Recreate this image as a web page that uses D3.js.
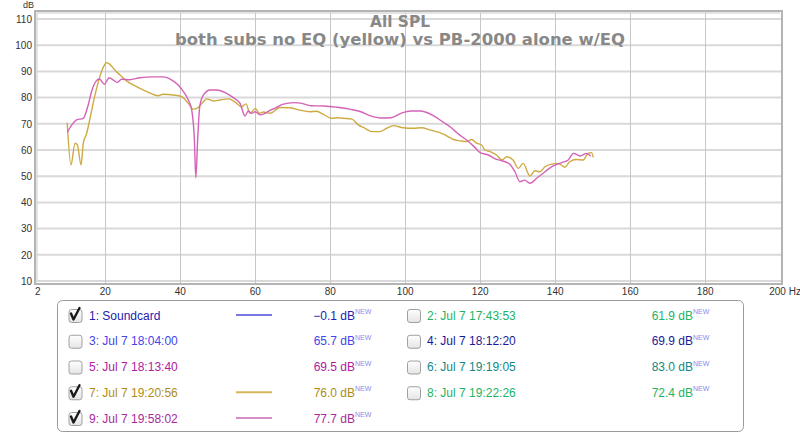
<!DOCTYPE html>
<html>
<head>
<meta charset="utf-8">
<script src="https://cdn.jsdelivr.net/npm/d3@7"></script>
<style>
  body { margin: 0; background: #fff; }
  svg { display: block; font-family: "Liberation Sans", Arial, sans-serif; }
</style>
</head>
<body>
<div id="chart"></div>
<script>
// frequency (Hz) and level (dB)
var yellowHz = [10, 11, 12.1, 12.7, 13.7, 14.3, 15.2, 15.9, 17, 18.3, 19.5, 20.5, 21.4, 22.7, 24.1, 25.9, 28.5, 31.2, 34.3, 35.6, 38.3, 40.5, 42.3, 43.6, 44.8, 46.3, 47.2, 49, 50.7, 53, 54.7, 56.5, 57.7, 58.7, 60.2, 61.2, 62.3, 64.1, 66.7, 69.4, 72.1, 74.7, 76.5, 78.3, 80.5, 82.3, 83.6, 85.9, 87.6, 89.4, 91.2, 93.4, 95.2, 97, 99.6, 102.3, 104.5, 106.8, 109.4, 112.1, 113, 114.8, 116.5, 117.9, 119.2, 120.5, 121.4, 122.8, 124.5, 125.9, 127.2, 128.9, 130.3, 131.6, 133.4, 134.7, 136, 137.4, 139.1, 140.9, 142.7, 144, 145.8, 147.6, 148.9, 149.8, 150.3];
var yellowDb = [70.4, 54.3, 62.6, 62, 54.3, 62.6, 66.4, 70.8, 78.4, 86, 91.2, 93.3, 92.7, 90.5, 88.6, 86.3, 84.2, 82.3, 80.7, 81.3, 81, 80.4, 77.8, 75.6, 76.1, 78.4, 79.5, 78.7, 79.1, 79.5, 78.4, 76.5, 77.6, 74, 75.9, 74, 74.5, 74, 76.2, 76.1, 75.2, 74.6, 74.8, 73.6, 72.1, 72.3, 72.1, 71.8, 69.6, 68.3, 67, 67, 68.3, 69.3, 68.5, 68.3, 68.5, 67.6, 66.6, 64.7, 64, 63.5, 63.2, 64, 62.6, 61.9, 60, 59.4, 58.1, 56.2, 57.4, 56.2, 53, 54.9, 50.1, 52.1, 51.7, 53.6, 54.6, 54.9, 53.4, 55.5, 56.4, 56.2, 58.7, 59, 57.2];

var pinkHz = [10, 11.2, 12.5, 14.3, 15.6, 16.5, 17.7, 18.6, 19.9, 21.2, 22.3, 23.4, 24.5, 26.7, 29.4, 33, 35.6, 37.9, 39.6, 41, 42.3, 43.2, 43.9, 44.3, 44.8, 45.4, 46.5, 48.1, 49.9, 52.5, 54.3, 56.1, 57.4, 58.3, 59.2, 60.1, 61.4, 62.5, 64.3, 65.6, 67.4, 70.5, 72.3, 75, 78.6, 82, 85.6, 88.3, 90.9, 93.6, 96.3, 99, 101.6, 104.3, 105.5, 107.5, 110.3, 112.1, 113.9, 116.5, 118.7, 120.1, 122.3, 124.5, 125.9, 128.1, 129.4, 130.7, 132, 133.4, 135.2, 137.4, 139.6, 141.9, 143.6, 145, 146.8, 148.5, 149.6];
var pinkDb = [66.7, 69.5, 71.5, 72.1, 77.2, 82.3, 86.3, 87.1, 85.1, 87.6, 86.7, 85.8, 87, 86.8, 87.6, 87.9, 87.9, 86.7, 84.8, 82.3, 79.1, 75.3, 64.5, 49.4, 64.5, 77.2, 81.3, 82.9, 82.9, 81.6, 80, 77.8, 73, 74.9, 74, 74.6, 73.4, 73.8, 75.3, 76.1, 77.4, 78.1, 77.9, 76.9, 76.8, 76.3, 75.5, 74.6, 73, 72.2, 72.3, 74, 74.9, 74.9, 74.5, 73.2, 70.6, 68.9, 66.6, 63.8, 61, 59, 58.1, 56.4, 55.9, 54.5, 51.7, 47.9, 48.5, 47.3, 49.2, 51.7, 53.9, 55.2, 56.2, 58.7, 57.7, 58.7, 57.6];

var xTicks = [2, 20, 40, 60, 80, 100, 120, 140, 160, 180, 200];
var yTicks = [10, 20, 30, 40, 50, 60, 70, 80, 90, 100, 110];

var titleLines = ["All SPL", "both subs no EQ (yellow) vs PB-2000 alone w/EQ"];
var titleWidths = [60, 450];

// legend: column 1 then column 2
var legendLabels = ["1: Soundcard", "3: Jul 7 18:04:00", "5: Jul 7 18:13:40", "7: Jul 7 19:20:56", "9: Jul 7 19:58:02",
                    "2: Jul 7 17:43:53", "4: Jul 7 18:12:20", "6: Jul 7 19:19:05", "8: Jul 7 19:22:26"];
var legendValues = ["\u22120.1 dB", "65.7 dB", "69.5 dB", "76.0 dB", "77.7 dB", "61.9 dB", "69.9 dB", "83.0 dB", "72.4 dB"];
var legendChecked = [true, false, false, true, true, false, false, false, false];
var legendColors = ["#2222b0", "#4444ee", "#b0209e", "#b08c14", "#aa2a9c", "#22b464", "#1a1a98", "#128888", "#22b464"];
var legendLine = ["#7878e0", null, null, "#d6b458", "#d88cc6", null, null, null, null];

var width = 800, height = 435;

var svg = d3.select("#chart")
  .append("svg")
    .attr("width", width)
    .attr("height", height);

var x = d3.scaleLinear().domain([2, 200]).range([37.2, 779.7]);
var y = d3.scaleLinear().domain([10, 110]).range([281, 19]);

var plot = {left: 35, top: 11, right: 782, bottom: 284};

// horizontal grid
svg.append("g")
  .selectAll("line")
  .data(yTicks)
  .enter().append("line")
    .attr("x1", plot.left).attr("x2", plot.right)
    .attr("y1", function(d) { return y(d); })
    .attr("y2", function(d) { return y(d); })
    .attr("stroke", "#d9d9d9")
    .attr("stroke-width", 2);

// vertical grid
svg.append("g")
  .selectAll("line")
  .data(xTicks.slice(1, -1))
  .enter().append("line")
    .attr("x1", function(d) { return Math.round(x(d)) + 0.5; })
    .attr("x2", function(d) { return Math.round(x(d)) + 0.5; })
    .attr("y1", plot.top).attr("y2", plot.bottom)
    .attr("stroke", "#c6c6c6")
    .attr("stroke-width", 1);

// frame
svg.append("rect")
  .attr("x", plot.left).attr("y", plot.top)
  .attr("width", plot.right - plot.left).attr("height", plot.bottom - plot.top)
  .attr("fill", "none")
  .attr("stroke", "#b4b4b4")
  .attr("stroke-width", 2);
svg.append("path")
  .attr("d", "M" + (plot.left + 2) + "," + (plot.bottom - 2) + "V" + (plot.top + 2) + "H" + (plot.right - 2))
  .attr("fill", "none")
  .attr("stroke", "#dcdcdc")
  .attr("stroke-width", 1.5);

// title
svg.append("g")
  .selectAll("text")
  .data(titleLines)
  .enter().append("text")
    .attr("x", 400)
    .attr("y", function(d, i) { return 27 + i * 17.5; })
    .attr("text-anchor", "middle")
    .attr("font-family", "'DejaVu Sans', sans-serif")
    .attr("font-size", "15.5px")
    .attr("font-weight", "bold")
    .attr("fill", "#888")
    .attr("textLength", function(d, i) { return titleWidths[i]; })
    .attr("lengthAdjust", "spacingAndGlyphs")
    .text(function(d) { return d; });

// axes labels
var yAxis = svg.append("g")
  .attr("transform", "translate(32,0)")
  .call(d3.axisLeft(y).tickValues(yTicks).tickSize(0).tickPadding(0));
var xAxis = svg.append("g")
  .attr("transform", "translate(0,288)")
  .call(d3.axisBottom(x).tickValues(xTicks).tickSize(0).tickPadding(0)
    .tickFormat(function(d) { return d; }));
[xAxis, yAxis].forEach(function(a) {
  a.select(".domain").remove();
  a.selectAll("text").attr("font-size", "10px").attr("fill", "#333")
    .attr("font-family", "'Liberation Sans', Arial, sans-serif");
});
xAxis.selectAll("text").filter(function(d) { return d === 200; })
  .attr("text-anchor", "start")
  .attr("dx", "-11")
  .text("200 Hz");

svg.append("text")
  .attr("x", 23).attr("y", 8)
  .attr("font-size", "9px")
  .attr("fill", "#333")
  .text("dB");

// curves
var line = d3.line()
  .x(function(d) { return x(d[0]); })
  .y(function(d) { return y(d[1]); })
  .curve(d3.curveMonotoneX);

svg.append("path")
  .datum(d3.zip(yellowHz, yellowDb))
  .attr("d", line)
  .attr("fill", "none")
  .attr("stroke", "#ceaa42")
  .attr("stroke-width", 1.4);

svg.append("path")
  .datum(d3.zip(pinkHz, pinkDb))
  .attr("d", line)
  .attr("fill", "none")
  .attr("stroke", "#d462b6")
  .attr("stroke-width", 1.4);

// legend
svg.append("rect")
  .attr("x", 57.5).attr("y", 300.5)
  .attr("width", 686).attr("height", 131)
  .attr("rx", 5)
  .attr("fill", "#fff")
  .attr("stroke", "#9a9a9a");

var defs = svg.append("defs");
var grad = defs.append("linearGradient")
  .attr("id", "box").attr("x1", 0).attr("y1", 0).attr("x2", 0).attr("y2", 1);
grad.append("stop").attr("offset", "0%").attr("stop-color", "#ffffff");
grad.append("stop").attr("offset", "100%").attr("stop-color", "#e4e4e4");

var rowY = d3.scaleLinear().domain([0, 4]).range([315, 418]);
var legendData = legendLabels.map(function(l, i) {
  return {label: l, value: legendValues[i], checked: legendChecked[i],
          color: legendColors[i], line: legendLine[i],
          col: i < 5 ? 0 : 1, row: i < 5 ? i : i - 5};
});
var colBox = [68.5, 407], colText = [89, 427], colVal = [355, 693];

var item = svg.append("g")
  .selectAll("g")
  .data(legendData)
  .enter().append("g")
    .attr("transform", function(d) { return "translate(0," + rowY(d.row) + ")"; });

item.append("rect")
  .attr("x", function(d) { return colBox[d.col] + 0.5; })
  .attr("y", -5.5)
  .attr("width", 13).attr("height", 13)
  .attr("rx", 2.5)
  .attr("fill", "url(#box)")
  .attr("stroke", "#a0a0a0");

item.filter(function(d) { return d.checked; })
  .append("path")
  .attr("d", function(d) {
    var b = colBox[d.col];
    return "M" + (b + 2.5) + ",-1.5 L" + (b + 5) + ",4.5 L" + (b + 11) + ",-7";
  })
  .attr("fill", "none")
  .attr("stroke", "#1a1a1a")
  .attr("stroke-width", 2.4)
  .attr("stroke-linejoin", "round")
  .attr("stroke-linecap", "round");

item.append("text")
  .attr("x", function(d) { return colText[d.col]; })
  .attr("y", 4.5)
  .attr("font-size", "12px")
  .attr("fill", function(d) { return d.color; })
  .text(function(d) { return d.label; });

item.append("text")
  .attr("x", function(d) { return colVal[d.col]; })
  .attr("y", 4.5)
  .attr("text-anchor", "end")
  .attr("font-size", "12px")
  .attr("fill", function(d) { return d.color; })
  .text(function(d) { return d.value; });

item.append("text")
  .attr("x", function(d) { return colVal[d.col]; })
  .attr("y", -1)
  .attr("font-size", "7px")
  .attr("fill", "#8a8aee")
  .text("NEW");

item.filter(function(d) { return d.line; })
  .append("line")
  .attr("x1", 236).attr("x2", 272)
  .attr("y1", 0).attr("y2", 0)
  .attr("stroke", function(d) { return d.line; })
  .attr("stroke-width", 2);
</script>
</body>
</html>
